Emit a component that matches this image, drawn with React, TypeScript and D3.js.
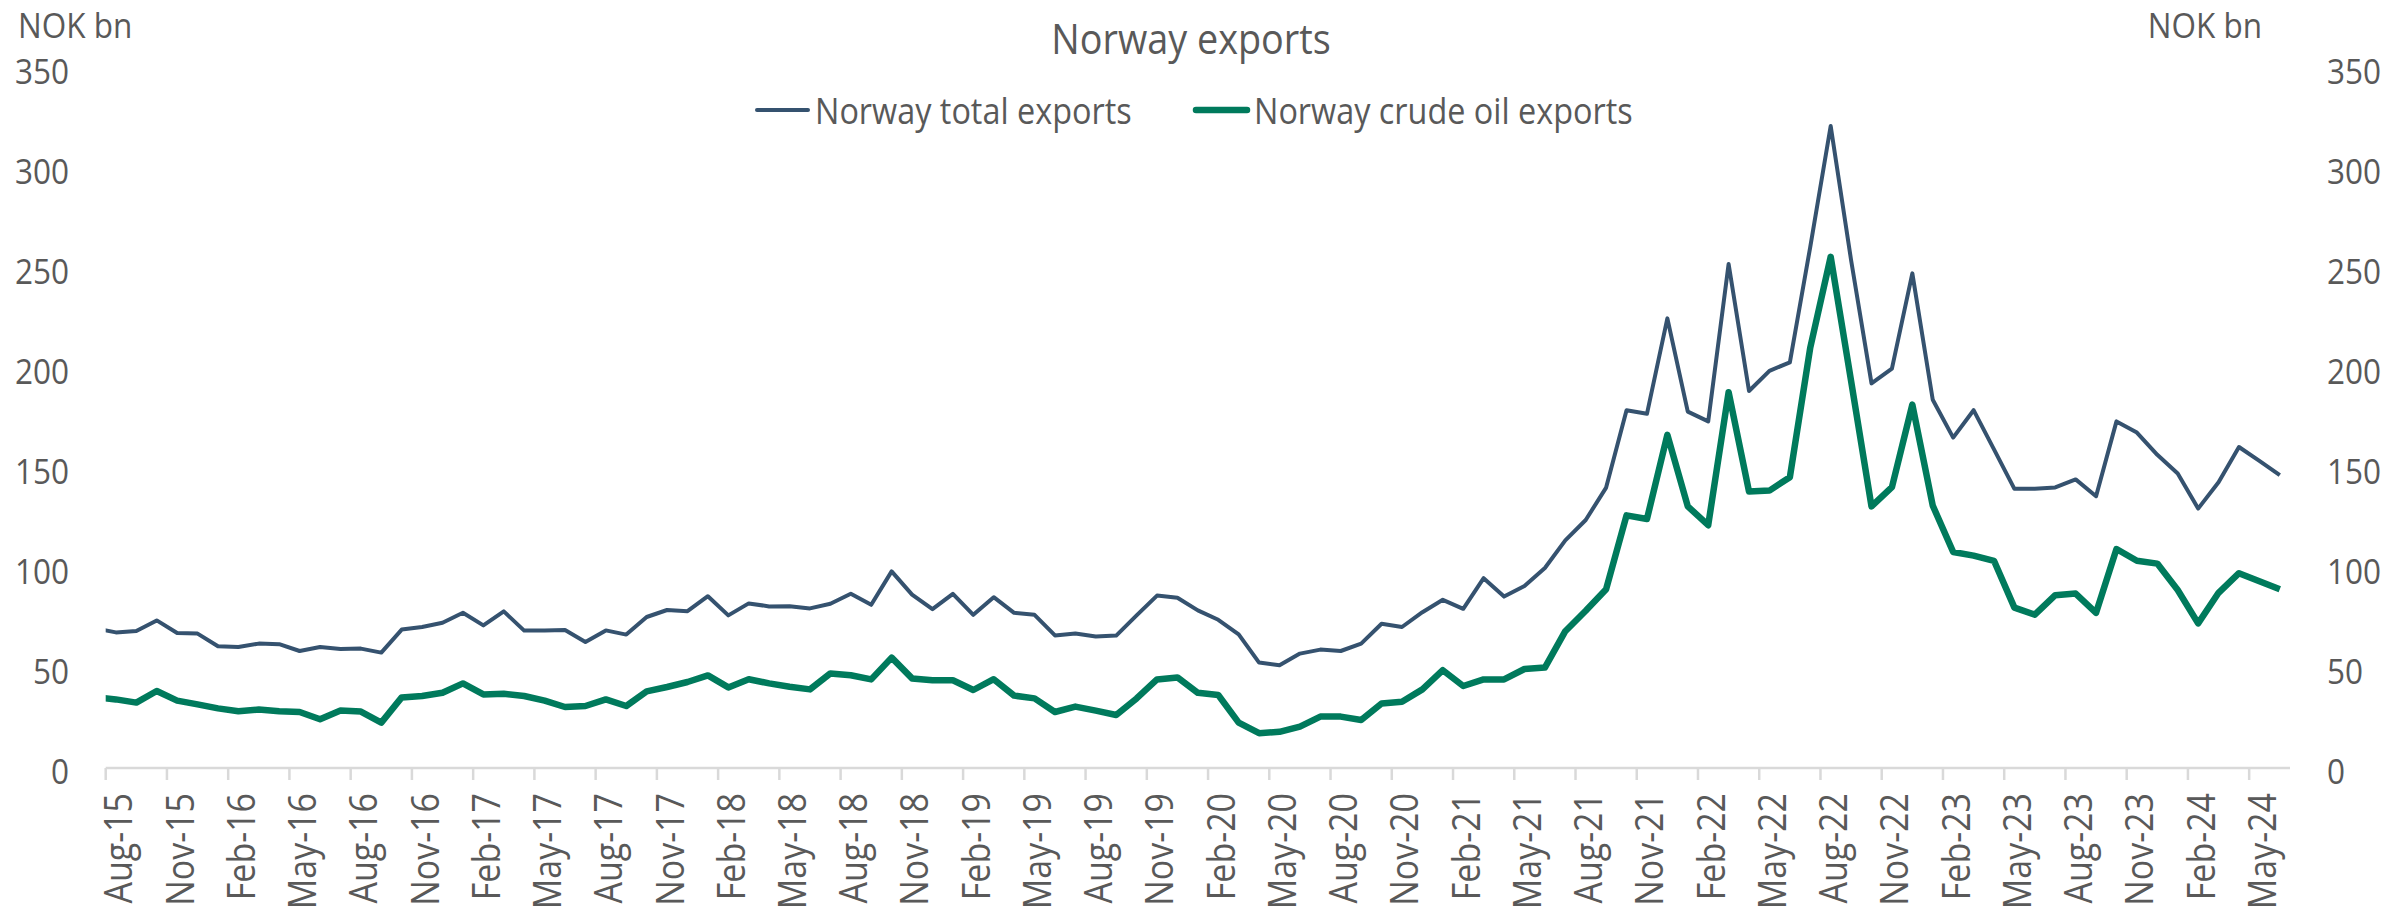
import React, { useEffect, useRef } from "react";
import { select, scaleLinear, line } from "d3";

// monthly values, NOK bn. First value is Jul-15 (sits just left of the plot and gets clipped),
// last one is Jun-24
const totalExports = [
  69.8, 67.8, 68.5, 73.8, 67.5, 67.2, 60.9, 60.5, 62.2, 61.9, 58.5, 60.5, 59.5, 59.7,
  57.7, 69.2, 70.5, 72.6, 77.6, 71.3, 78.3, 68.7, 68.8, 69.0, 63.0, 68.8, 66.7, 75.5,
  79.0, 78.4, 85.9, 76.3, 82.3, 80.8, 80.9, 79.8, 82.1, 87.1, 81.6, 98.3, 86.7, 79.4,
  87.1, 76.6, 85.4, 77.6, 76.6, 66.3, 67.3, 65.8, 66.2, 76.3, 86.2, 85.1, 78.8, 74.1,
  66.8, 52.7, 51.4, 57.2, 59.2, 58.5, 62.2, 72.1, 70.5, 77.9, 84.1, 79.6, 94.9, 85.7,
  91.0, 100.0, 113.8, 124.0, 140.2, 178.9, 177.1, 224.8, 178.2, 173.3, 252.0, 188.5,
  198.6, 202.8, 260.6, 321.0, 253.9, 192.3, 199.7, 247.3, 184.1, 165.2, 178.9, 159.3,
  139.6, 139.6, 140.3, 144.3, 135.9, 173.3, 167.7, 156.6, 147.3, 129.7, 142.9, 160.5,
  153.6, 146.4
];

const crudeOilExports = [
  35.3, 34.3, 32.7, 38.5, 33.7, 31.8, 29.8, 28.4, 29.2, 28.4, 28.0, 24.4, 28.7, 28.2,
  22.7, 35.3, 36.0, 37.6, 42.3, 36.8, 37.1, 36.0, 33.7, 30.5, 31.0, 34.3, 31.0, 38.3,
  40.5, 43.0, 46.3, 40.3, 44.4, 42.3, 40.6, 39.3, 47.3, 46.4, 44.3, 55.2, 44.8, 43.9,
  43.9, 39.0, 44.4, 36.2, 34.8, 28.0, 30.7, 28.7, 26.5, 34.8, 44.3, 45.3, 37.6, 36.5,
  22.7, 17.4, 18.1, 20.7, 25.7, 25.7, 24.0, 32.3, 33.1, 39.3, 48.9, 41.0, 44.3, 44.3,
  49.5, 50.2, 68.4, 78.6, 89.4, 126.3, 124.5, 166.6, 130.8, 121.4, 187.9, 138.2,
  138.7, 145.4, 210.2, 255.6, 193.5, 130.8, 140.4, 181.7, 131.2, 108.0, 106.2, 103.6,
  80.2, 76.7, 86.4, 87.2, 77.6, 109.5, 103.6, 102.2, 89.0, 72.3, 87.6, 97.4, 93.4, 89.4
];

// one label every third month, starting Aug-15
const tickLabels = [
  "Aug-15", "Nov-15", "Feb-16", "May-16", "Aug-16", "Nov-16", "Feb-17", "May-17",
  "Aug-17", "Nov-17", "Feb-18", "May-18", "Aug-18", "Nov-18", "Feb-19", "May-19",
  "Aug-19", "Nov-19", "Feb-20", "May-20", "Aug-20", "Nov-20", "Feb-21", "May-21",
  "Aug-21", "Nov-21", "Feb-22", "May-22", "Aug-22", "Nov-22", "Feb-23", "May-23",
  "Aug-23", "Nov-23", "Feb-24", "May-24"
];

const yTicks = [0, 50, 100, 150, 200, 250, 300, 350];

const seriesNames = ["Norway total exports", "Norway crude oil exports"];
const colors = ["#35526f", "#007a5c"];
const widths = [4, 6.5];

const W = 2389;
const H = 909;
const FONT = "'Open Sans', 'Noto Sans', sans-serif";
const GREY = "#595959";
const SQ = 0.9; // horizontal text in the picture is a bit narrow

function App() {
  const svgRef = useRef(null);

  useEffect(() => {
    const svg = select(svgRef.current);
    svg.selectAll("*").remove();

    // month index: Aug-15 = 0, data index k -> month k - 1
    const nMonths = totalExports.length - 1;
    const x = scaleLinear().domain([-0.5, nMonths - 0.5]).range([105.7, 2290]);
    const y = scaleLinear().domain([0, 350]).range([768, 68]);

    svg.append("rect").attr("width", W).attr("height", H).attr("fill", "#fff");

    svg
      .append("clipPath")
      .attr("id", "plot-clip")
      .append("rect")
      .attr("x", x(-0.5))
      .attr("y", 0)
      .attr("width", x(nMonths - 0.5) - x(-0.5))
      .attr("height", H);

    // title
    svg
      .append("text")
      .attr("transform", `translate(1191, 38) scale(${SQ},1)`)
      .attr("text-anchor", "middle")
      .attr("dominant-baseline", "central")
      .attr("font-size", 42)
      .attr("fill", GREY)
      .text("Norway exports");

    // unit labels
    svg
      .append("text")
      .attr("transform", `translate(18, 38) scale(${SQ},1)`)
      .attr("font-size", 35)
      .attr("fill", GREY)
      .text("NOK bn");
    svg
      .append("text")
      .attr("transform", `translate(2262, 38) scale(${SQ},1)`)
      .attr("text-anchor", "end")
      .attr("font-size", 35)
      .attr("fill", GREY)
      .text("NOK bn");

    // y labels, both sides
    const yl = svg.append("g").attr("font-size", 35).attr("fill", GREY);
    yl.selectAll(".yl")
      .data(yTicks)
      .join("text")
      .attr("class", "yl")
      .attr("transform", d => `translate(69, ${y(d) + 2}) scale(${SQ},1)`)
      .attr("text-anchor", "end")
      .attr("dominant-baseline", "central")
      .text(d => d);
    yl.selectAll(".yr")
      .data(yTicks)
      .join("text")
      .attr("class", "yr")
      .attr("transform", d => `translate(2327, ${y(d) + 2}) scale(${SQ},1)`)
      .attr("dominant-baseline", "central")
      .text(d => d);

    // x axis line + ticks
    const ax = svg.append("g").attr("stroke", "#d9d9d9").attr("stroke-width", 2.5);
    ax.append("line")
      .attr("x1", x(-0.5))
      .attr("x2", x(nMonths - 0.5))
      .attr("y1", y(0))
      .attr("y2", y(0));
    ax.selectAll(".tick")
      .data(tickLabels)
      .join("line")
      .attr("class", "tick")
      .attr("x1", (d, i) => x(i * 3 - 0.5))
      .attr("x2", (d, i) => x(i * 3 - 0.5))
      .attr("y1", y(0))
      .attr("y2", y(0) + 12);

    svg
      .append("g")
      .attr("font-size", 34)
      .attr("fill", GREY)
      .selectAll("text")
      .data(tickLabels)
      .join("text")
      .attr("transform", (d, i) => `translate(${x(i * 3 - 0.5) + 12}, 793) scale(1.1,1) rotate(-90)`)
      .attr("text-anchor", "end")
      .attr("dominant-baseline", "central")
      .text(d => d);

    // lines
    const lineGen = line<number>()
      .x((d, k) => x(k - 1))
      .y(d => y(d));

    const plot = svg.append("g").attr("clip-path", "url(#plot-clip)");
    [totalExports, crudeOilExports].forEach((s, i) => {
      plot
        .append("path")
        .datum(s)
        .attr("fill", "none")
        .attr("stroke", colors[i])
        .attr("stroke-width", widths[i])
        .attr("stroke-linejoin", "round")
        .attr("d", lineGen);
    });

    // legend
    const legX = [757, 1196];
    const leg = svg.append("g");
    seriesNames.forEach((name, i) => {
      leg.append("line")
        .attr("x1", legX[i])
        .attr("x2", legX[i] + 51)
        .attr("y1", 110)
        .attr("y2", 110)
        .attr("stroke", colors[i])
        .attr("stroke-width", widths[i])
        .attr("stroke-linecap", "round");
      leg.append("text")
        .attr("transform", `translate(${legX[i] + 58}, 110) scale(${SQ},1)`)
        .attr("dominant-baseline", "central")
        .attr("font-size", 36)
        .attr("fill", GREY)
        .text(name);
    });
  }, []);

  return (
    <svg
      ref={svgRef}
      width={W}
      height={H}
      style={{ position: "absolute", left: 0, top: 0, display: "block", fontFamily: FONT }}
    />
  );
}

export default App;
